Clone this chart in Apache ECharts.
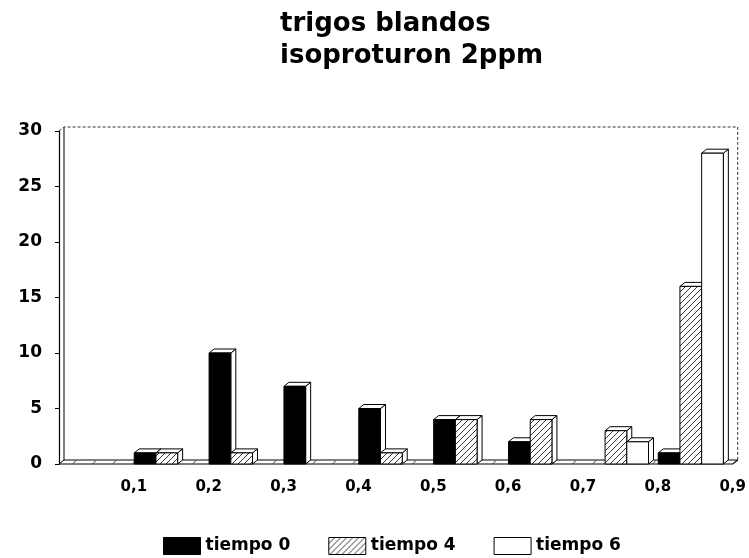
<!DOCTYPE html>
<html>
<head>
<meta charset="utf-8">
<script src="https://cdn.jsdelivr.net/npm/echarts@6/dist/echarts.min.js"></script>
<style>
    html, body { margin: 0; padding: 0; background: #fff; }
    #chart { width: 749px; height: 558px; }
</style>
</head>
<body>
<div id="chart"></div>
<script>
// classes 0-0,1 ... 0,8-0,9 ; labels sit on the class limits
const classLimits = ['0,1', '0,2', '0,3', '0,4', '0,5', '0,6', '0,7', '0,8', '0,9'];
const classes = ['0-0,1', '0,1-0,2', '0,2-0,3', '0,3-0,4', '0,4-0,5', '0,5-0,6', '0,6-0,7', '0,7-0,8', '0,8-0,9'];
const tiempo0 = [0, 1, 10, 7, 5, 4, 2, 0, 1];
const tiempo4 = [0, 1, 1, 0, 1, 4, 4, 3, 16];
const tiempo6 = [0, 0, 0, 0, 0, 0, 0, 2, 28];
const seriesNames = ['tiempo 0', 'tiempo 4', 'tiempo 6'];

const font = 'DejaVu Sans';
const DX = 5, DY = 4;

// diagonal hatch for tiempo 4
function hatch() {
    let c = document.createElement('canvas');
    c.width = 6; c.height = 6;
    let ctx = c.getContext('2d');
    ctx.fillStyle = '#fff';
    ctx.fillRect(0, 0, 6, 6);
    ctx.strokeStyle = '#000';
    ctx.lineWidth = 0.8;
    ctx.beginPath();
    ctx.moveTo(-1, 7); ctx.lineTo(7, -1);
    ctx.moveTo(-1, 1); ctx.lineTo(1, -1);
    ctx.moveTo(5, 7); ctx.lineTo(7, 5);
    ctx.stroke();
    return { image: c, repeat: 'repeat' };
}
const fills = ['#000', hatch(), '#fff'];

function barRender(idx) {
    return function (params, api) {
        let val = api.value(1);
        if (!val) return null;
        let cat = api.value(0);
        let band = api.size([1, 0])[0];
        let base = api.coord([cat, 0]);
        let top = api.coord([cat, val]);
        let bw = band * 0.29;
        let x = base[0] - band / 2 + band * 0.005 + idx * bw;
        let y = top[1], y0 = base[1];
        let line = { stroke: '#000', lineWidth: 1 };
        return {
            type: 'group',
            children: [
                { type: 'polygon', shape: { points: [[x + bw, y], [x + bw + DX, y - DY], [x + bw + DX, y0 - DY], [x + bw, y0]] },
                  style: Object.assign({ fill: '#fff' }, line) },
                { type: 'polygon', shape: { points: [[x, y], [x + DX, y - DY], [x + bw + DX, y - DY], [x + bw, y]] },
                  style: Object.assign({ fill: '#fff' }, line) },
                { type: 'rect', shape: { x: x, y: y, width: bw, height: y0 - y },
                  style: Object.assign({ fill: fills[idx] }, line) }
            ]
        };
    };
}

// 3d floor and back walls of the plot box
function frameRender(params, api) {
    let cs = params.coordSys;
    let x0 = cs.x, x1 = cs.x + cs.width, y1 = cs.y, y0 = cs.y + cs.height;
    let children = [
        { type: 'polyline', shape: { points: [[x0 + DX, y0 - DY], [x1 + DX, y0 - DY]] }, style: { stroke: '#000', lineWidth: 1 } },
        { type: 'polyline', shape: { points: [[x0, y0], [x1, y0], [x1 + DX, y0 - DY]] }, style: { stroke: '#000', lineWidth: 1.2, fill: null } },
        { type: 'polyline', shape: { points: [[x0, y0], [x0 + DX, y0 - DY], [x0 + DX, y1 - DY]] }, style: { stroke: '#000', lineWidth: 1, fill: null } },
        { type: 'polyline', shape: { points: [[x0, y1], [x0 + DX, y1 - DY], [x1 + DX, y1 - DY], [x1 + DX, y0 - DY]] },
          style: { stroke: '#333', lineWidth: 1, lineDash: [3, 2], fill: null } }
    ];
    for (let x = x0 + 14; x < x1 - 4; x += 20) {
        children.push({ type: 'line', shape: { x1: x, y1: y0 - 0.5, x2: x + 3, y2: y0 - DY + 0.5 }, style: { stroke: '#000', lineWidth: 0.8 } });
    }
    return { type: 'group', children: children };
}

let chart = echarts.init(document.getElementById('chart'));
let seriesData = [tiempo0, tiempo4, tiempo6];
let series = seriesData.map(function (arr, i) {
    return {
        name: seriesNames[i],
        type: 'custom',
        xAxisIndex: 0,
        renderItem: barRender(i),
        itemStyle: { color: fills[i], borderColor: '#000', borderWidth: 1 },
        data: arr.map(function (v, k) { return [k, v]; }),
        z: 3
    };
});
series.unshift({
    type: 'custom',
    xAxisIndex: 0,
    renderItem: frameRender,
    data: [[0, 0]],
    silent: true,
    z: 1
});

let option = {
    animation: false,
    backgroundColor: '#fff',
    title: {
        text: 'trigos blandos\nisoproturon 2ppm',
        left: 275,
        top: 3,
        textStyle: { fontFamily: font, fontSize: 26, fontWeight: 'bold', lineHeight: 32, color: '#000' }
    },
    legend: {
        left: 158,
        top: 532,
        itemWidth: 37,
        itemHeight: 17,
        itemGap: 38,
        icon: 'rect',
        textStyle: { fontFamily: font, fontSize: 17, fontWeight: 'bold', color: '#000' },
        data: seriesNames.map(function (n, i) {
            return { name: n, itemStyle: { color: fills[i], borderColor: '#000', borderWidth: 1 } };
        })
    },
    grid: {
        left: 59,
        right: 16,
        top: 131,
        bottom: 94
    },
    xAxis: [
        {
            type: 'category',
            data: classes,
            boundaryGap: true,
            axisLine: { show: false },
            axisTick: { show: false },
            axisLabel: { show: false },
            splitLine: { show: false }
        },
        {
            type: 'value',
            position: 'bottom',
            min: 0,
            max: classLimits.length,
            interval: 1,
            axisLine: { show: false },
            axisTick: { show: false },
            splitLine: { show: false },
            axisLabel: {
                margin: 16,
                fontFamily: font,
                fontSize: 15,
                fontWeight: 'bold',
                color: '#000',
                formatter: function (v) { return v === 0 ? '' : classLimits[v - 1]; }
            }
        }
    ],
    yAxis: {
        type: 'value',
        min: 0,
        max: 30,
        interval: 5,
        axisLine: { show: true, lineStyle: { color: '#000', width: 1.2 } },
        axisTick: { show: true, length: 4, lineStyle: { color: '#000' } },
        splitLine: { show: false },
        axisLabel: { margin: 17, fontFamily: font, fontSize: 17, fontWeight: 'bold', color: '#000' }
    },
    series: series
};
chart.setOption(option);
</script>
</body>
</html>
